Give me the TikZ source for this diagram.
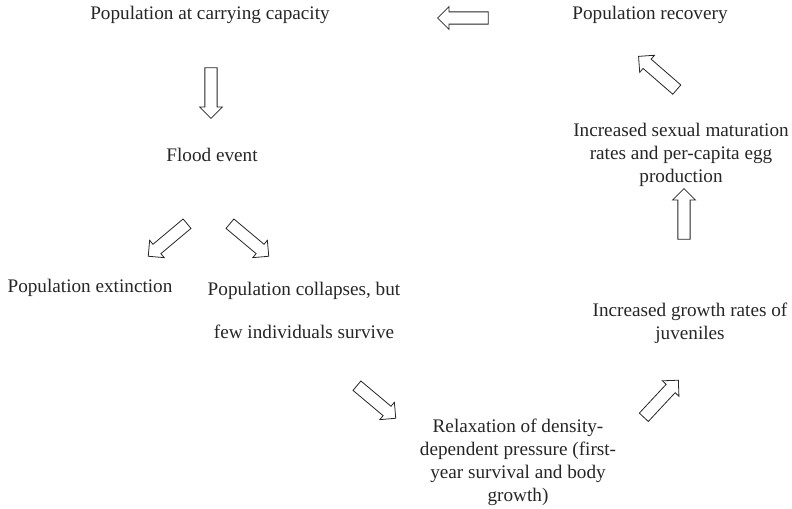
\documentclass[tikz,border=0pt]{standalone}
\usepackage{fontspec}
\setmainfont{Liberation Serif}
\usetikzlibrary{shapes.arrows}

\begin{document}
\begin{tikzpicture}[x=0.75pt, y=-0.75pt,
	testo/.style={font=\fontsize{14.4}{17.3}\selectfont, align=center, inner sep=0pt, text=black!85},
	freccia/.style={single arrow, draw=black!85, line width=0.6pt, fill=white,
		inner sep=4.3pt, minimum height=38pt, single arrow head extend=3.9pt}]

	\useasboundingbox (0,0) rectangle (792,509);

	% stadi
	\node[testo] (capacita) at (210,15) {Population at carrying capacity};
	\node[testo] (recupero) at (650,15) {Population recovery};
	\node[testo] (piena) at (212,155) {Flood event};
	\node[testo] (maturazione) at (681,155) {Increased sexual maturation\\rates and per-capita egg\\production};
	\node[testo] (estinzione) at (90,288) {Population extinction};
	\node[testo] (collasso) at (304,310) {Population collapses, but\\[15pt]few individuals survive};
	\node[testo] (crescita) at (690,323) {Increased growth rates of\\juveniles};
	\node[testo] (rilassamento) at (518,462) {Relaxation of density-\\dependent pressure (first-\\year survival and body\\growth)};

	% frecce
	\node[freccia, rotate=-90] (f1) at (211,90) {};
	\node[freccia, rotate=-140] (f2) at (170,238) {};
	\node[freccia, rotate=-40] (f3) at (247,238) {};
	\node[freccia, rotate=-40] (f4) at (374,400) {};
	\node[freccia, rotate=47] (f5) at (659,401) {};
	\node[freccia, rotate=90] (f6) at (684,217) {};
	\node[freccia, rotate=139] (f7) at (660,75) {};
	\node[freccia, rotate=180] (f8) at (466,18) {};
\end{tikzpicture}
\end{document}
